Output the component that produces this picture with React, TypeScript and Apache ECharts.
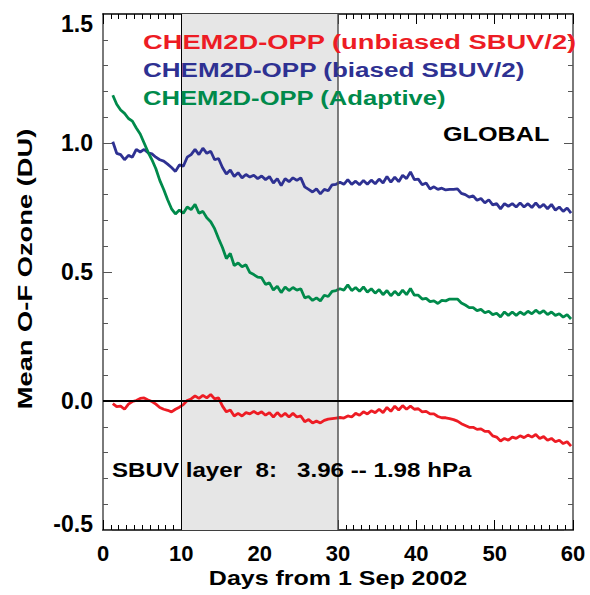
import React, { useEffect, useRef } from "react";
import * as echarts from "echarts";

const days = [
  1.25, 1.75, 2.25, 2.75, 3.25, 3.75, 4.25, 4.75, 5.25, 5.75,
  6.25, 6.75, 7.25, 7.75, 8.25, 8.75, 9.25, 9.75, 10.25, 10.75,
  11.25, 11.75, 12.25, 12.75, 13.25, 13.75, 14.25, 14.75, 15.25, 15.75,
  16.25, 16.75, 17.25, 17.75, 18.25, 18.75, 19.25, 19.75, 20.25, 20.75,
  21.25, 21.75, 22.25, 22.75, 23.25, 23.75, 24.25, 24.75, 25.25, 25.75,
  26.25, 26.75, 27.25, 27.75, 28.25, 28.75, 29.25, 29.75, 30.25, 30.75,
  31.25, 31.75, 32.25, 32.75, 33.25, 33.75, 34.25, 34.75, 35.25, 35.75,
  36.25, 36.75, 37.25, 37.75, 38.25, 38.75, 39.25, 39.75, 40.25, 40.75,
  41.25, 41.75, 42.25, 42.75, 43.25, 43.75, 44.25, 44.75, 45.25, 45.75,
  46.25, 46.75, 47.25, 47.75, 48.25, 48.75, 49.25, 49.75, 50.25, 50.75,
  51.25, 51.75, 52.25, 52.75, 53.25, 53.75, 54.25, 54.75, 55.25, 55.75,
  56.25, 56.75, 57.25, 57.75, 58.25, 58.75, 59.25, 59.75,
];

const unbiased = [
  -0.01, -0.022, -0.02, -0.032, -0.012, -0.002, 0.002, 0.01, 0.012, 0.004,
  -0.002, -0.012, -0.025, -0.032, -0.036, -0.042, -0.032, -0.024, -0.014, 0.002,
  0.008, 0.02, 0.01, 0.022, 0.012, 0.025, 0.008, 0.012, -0.02, -0.042,
  -0.035, -0.058, -0.048, -0.058, -0.045, -0.05, -0.04, -0.05, -0.042, -0.055,
  -0.045, -0.062, -0.045, -0.06, -0.048, -0.062, -0.048, -0.062, -0.058, -0.08,
  -0.072, -0.085, -0.078, -0.085, -0.075, -0.07, -0.068, -0.066, -0.064, -0.066,
  -0.058, -0.062, -0.048, -0.055, -0.042, -0.05, -0.038, -0.045, -0.032, -0.045,
  -0.025, -0.04, -0.02, -0.035, -0.018, -0.032, -0.02, -0.032, -0.03, -0.042,
  -0.04, -0.05, -0.05, -0.06, -0.065, -0.065, -0.068, -0.072, -0.078, -0.088,
  -0.095, -0.102, -0.102, -0.11, -0.108, -0.118, -0.118, -0.135, -0.14, -0.155,
  -0.145, -0.152, -0.14, -0.145, -0.135, -0.142, -0.132, -0.14, -0.13, -0.145,
  -0.138, -0.152, -0.145, -0.158, -0.152, -0.165, -0.158, -0.175,
];

const biased = [
  1.005, 0.96, 0.955, 0.935, 0.952, 0.945, 0.975, 0.965, 0.975, 0.962,
  0.958, 0.945, 0.935, 0.93, 0.918, 0.905, 0.89, 0.915, 0.91, 0.945,
  0.955, 0.975, 0.955, 0.98, 0.96, 0.968, 0.935, 0.94, 0.905, 0.88,
  0.895, 0.87, 0.885, 0.865, 0.878, 0.868, 0.875, 0.862, 0.872, 0.858,
  0.87, 0.845, 0.862, 0.835, 0.862, 0.85, 0.865, 0.855, 0.865, 0.83,
  0.82, 0.81, 0.822, 0.803, 0.82, 0.815, 0.838, 0.84, 0.848, 0.84,
  0.858, 0.84, 0.852, 0.838, 0.855, 0.84, 0.856, 0.842, 0.86, 0.845,
  0.87, 0.848, 0.868, 0.85, 0.875, 0.862, 0.888, 0.858, 0.86, 0.838,
  0.845, 0.822, 0.83, 0.82, 0.825, 0.818, 0.82, 0.82, 0.822, 0.805,
  0.8, 0.79, 0.795, 0.778, 0.785, 0.768, 0.78, 0.76, 0.765, 0.745,
  0.765, 0.755, 0.765, 0.752, 0.768, 0.752, 0.765, 0.75, 0.768, 0.75,
  0.762, 0.745, 0.762, 0.74, 0.752, 0.735, 0.748, 0.728,
];

const adaptive = [
  1.185, 1.15, 1.128, 1.115, 1.095, 1.085, 1.058, 1.035, 1.0, 0.965,
  0.935, 0.9, 0.855, 0.82, 0.78, 0.745, 0.725, 0.74, 0.728, 0.752,
  0.742, 0.762, 0.728, 0.735, 0.71, 0.695, 0.668, 0.63, 0.595, 0.552,
  0.572, 0.525, 0.535, 0.52, 0.528, 0.498, 0.49, 0.48, 0.478, 0.452,
  0.458, 0.43, 0.445, 0.42, 0.442, 0.428, 0.44, 0.43, 0.435, 0.4,
  0.405, 0.39, 0.4, 0.388, 0.41, 0.405, 0.425, 0.428, 0.435, 0.43,
  0.45, 0.428, 0.44, 0.425, 0.442, 0.422, 0.435, 0.418, 0.432, 0.412,
  0.428, 0.408, 0.425, 0.41, 0.43, 0.412, 0.436, 0.41, 0.41, 0.395,
  0.398, 0.385, 0.388, 0.378, 0.39, 0.388, 0.395, 0.395, 0.395, 0.38,
  0.372, 0.362, 0.362, 0.35, 0.355, 0.342, 0.348, 0.335, 0.34, 0.326,
  0.345, 0.332, 0.345, 0.332, 0.345, 0.335, 0.348, 0.338, 0.352, 0.34,
  0.35, 0.335, 0.345, 0.332, 0.338, 0.325, 0.335, 0.318,
];

const seriesNames = [
  "CHEM2D-OPP (unbiased SBUV/2)",
  "CHEM2D-OPP (biased SBUV/2)",
  "CHEM2D-OPP (Adaptive)",
];
const seriesColors = ["#ed1c24", "#2e3192", "#008a4b"];
const shadedRange = [10, 30];
const regionLabel = "GLOBAL";
const layerLabel = "SBUV layer  8:   3.96 -- 1.98 hPa";
const xTitle = "Days from 1 Sep 2002";
const yTitle = "Mean O-F Ozone (DU)";

const FONT = "'Liberation Sans', Arial, Helvetica, sans-serif";

export default function App() {
  const ref = useRef<HTMLDivElement>(null);
  useEffect(() => {
    if (!ref.current) return;
    const chart = echarts.init(ref.current, undefined, { renderer: "svg" });
    const pair = (vals: number[]) => days.map((d, i) => [d, vals[i]]);
    const xCommon = {
      type: "value",
      min: 0,
      max: 60,
      interval: 10,
      splitLine: { show: false },
      axisLine: { show: true, onZero: false, lineStyle: { color: "#000", width: 1.5 } },
      axisTick: { show: true, inside: true, length: 10, lineStyle: { color: "#000", width: 1 } },
      minorTick: { show: true, splitNumber: 10, length: 5, lineStyle: { color: "#000", width: 1 } },
    };
    const yCommon = {
      type: "value",
      min: -0.5,
      max: 1.5,
      interval: 0.5,
      splitLine: { show: false },
      axisLine: { show: true, onZero: false, lineStyle: { color: "#7a7a7a", width: 2 } },
      axisTick: { show: true, inside: true, length: 9, lineStyle: { color: "#555", width: 1 } },
      minorTick: { show: true, splitNumber: 5, length: 5, lineStyle: { color: "#555", width: 1 } },
    };
    const textEl = (
      text: string,
      x: number,
      y: number,
      color: string,
      scaleX: number,
      extra: any = {}
    ) => ({
      type: "text",
      x,
      y,
      scaleX,
      z: 100,
      ...extra,
      style: {
        text,
        fill: color,
        font: `bold 21px ${FONT}`,
        textAlign: extra.align || "left",
        textVerticalAlign: "middle",
      },
    });
    chart.setOption({
      animation: false,
      backgroundColor: "#fff",
      grid: { left: 103, top: 14, width: 470, height: 516, containLabel: false },
      xAxis: [
        {
          ...xCommon,
          position: "bottom",
          axisLabel: {
            show: true,
            margin: 12,
            color: "#000",
            fontSize: 22,
            fontWeight: "bold",
            fontFamily: FONT,
          },
        },
        { ...xCommon, position: "top", axisLabel: { show: false } },
      ],
      yAxis: [
        {
          ...yCommon,
          position: "left",
          axisLabel: {
            show: true,
            margin: 10,
            color: "#000",
            fontSize: 23,
            fontWeight: "bold",
            fontFamily: FONT,
            formatter: (v: number) => {
              const s = v.toFixed(1);
              if (v >= 1.5) return `{top|${s}}`;
              if (v <= -0.5) return `{bot|${s}}`;
              return s;
            },
            rich: {
              top: { padding: [19, 0, 0, 0], fontSize: 23, fontWeight: "bold", fontFamily: FONT, color: "#000" },
              bot: { padding: [0, 0, 12, 0], fontSize: 23, fontWeight: "bold", fontFamily: FONT, color: "#000" },
            },
          },
        },
        { ...yCommon, position: "right", axisLabel: { show: false } },
      ],
      series: [
        {
          type: "line",
          name: "shade",
          data: [],
          silent: true,
          markArea: {
            silent: true,
            itemStyle: { color: "#e6e6e6" },
            data: [[{ xAxis: shadedRange[0] }, { xAxis: shadedRange[1] }]],
          },
          markLine: {
            silent: true,
            symbol: "none",
            label: { show: false },
            data: [
              { xAxis: shadedRange[0], lineStyle: { color: "#000", width: 1, type: "solid" } },
              { xAxis: shadedRange[1], lineStyle: { color: "#555", width: 1.5, type: "solid" } },
              { yAxis: 0, lineStyle: { color: "#000", width: 2, type: "solid" } },
            ],
          },
        },
        ...[unbiased, biased, adaptive].map((vals, i) => ({
          type: "line",
          name: seriesNames[i],
          data: pair(vals),
          showSymbol: false,
          symbol: "none",
          lineStyle: { color: seriesColors[i], width: 2.8 },
          z: 3,
        })),
      ],
      graphic: [
        textEl(seriesNames[0], 143, 42, seriesColors[0], 1.3),
        textEl(seriesNames[1], 143, 70, seriesColors[1], 1.24),
        textEl(seriesNames[2], 143, 98, seriesColors[2], 1.22),
        textEl(regionLabel, 443, 134, "#000", 1.2),
        textEl(layerLabel, 112, 470, "#000", 1.15),
        textEl(xTitle, 338, 578, "#000", 1.19, { align: "center" }),
        textEl(yTitle, 25, 269, "#000", 1.3, { align: "center", rotation: Math.PI / 2 }),
      ],
    });
    return () => chart.dispose();
  }, []);
  return (
    <div
      ref={ref}
      style={{ position: "fixed", left: 0, top: 0, width: 590, height: 595, background: "#fff" }}
    />
  );
}
